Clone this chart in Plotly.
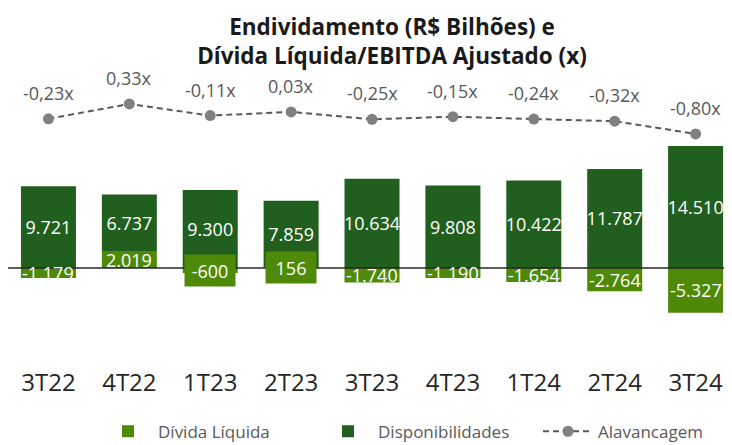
import plotly.graph_objects as go

categories = ['3T22', '4T22', '1T23', '2T23', '3T23', '4T23', '1T24', '2T24', '3T24']
divida_liquida = [-1179, 2019, -600, 156, -1740, -1190, -1654, -2764, -5327]
disponibilidades = [9721, 6737, 9300, 7859, 10634, 9808, 10422, 11787, 14510]
alavancagem = [-0.23, 0.33, -0.11, 0.03, -0.25, -0.15, -0.24, -0.32, -0.80]

LIGHT = '#4E8A08'
DARK = '#215F1E'
FONT = 'Open Sans'


def br(v):
    return f"{v:,}".replace(',', '.')


fig = go.Figure()
fig.add_trace(go.Bar(
    x=categories, y=divida_liquida, name='Dívida Líquida',
    marker=dict(color=LIGHT, line=dict(width=0)), width=0.68,
))
fig.add_trace(go.Bar(
    x=categories, y=disponibilidades, name='Disponibilidades',
    marker=dict(color=DARK, line=dict(width=0)), width=0.68,
    text=[br(v) for v in disponibilidades], textposition='inside', textangle=0,
    insidetextanchor='middle', constraintext='none',
    textfont=dict(color='white', size=18, family=FONT),
))
fig.add_trace(go.Scatter(
    x=categories, y=alavancagem, name='Alavancagem', yaxis='y2',
    mode='lines+markers',
    line=dict(color='#595959', width=2, dash='6px,4px'),
    marker=dict(color='#808080', size=11),
))

annotations = []
for c, v in zip(categories, divida_liquida):
    boxed = abs(v) < 1000
    a = dict(x=c, y=v / 2, xref='x', yref='y', text=br(v), showarrow=False,
             font=dict(color='white', size=18, family=FONT),
             xanchor='center', yanchor='middle')
    if boxed:
        a.update(bgcolor=LIGHT, width=48, height=29)
    annotations.append(a)
for c, v in zip(categories, alavancagem):
    annotations.append(dict(
        x=c, y=v, xref='x', yref='y2', text=f"{v:.2f}".replace('.', ',') + 'x',
        showarrow=False, yshift=26, font=dict(color='#595959', size=18, family=FONT),
        xanchor='center', yanchor='middle'))

W, H = 724, 437
fig.update_layout(
    width=W, height=H,
    margin=dict(l=0, r=0, t=62, b=79, autoexpand=False),
    paper_bgcolor='white', plot_bgcolor='white',
    barmode='relative', bargap=0.32,
    title=dict(text='<b>Endividamento (R$ Bilhões) e<br>Dívida Líquida/EBITDA Ajustado (x)</b>',
               x=384 / W, xanchor='center', xref='container',
               y=1 - 27 / H, yanchor='middle', yref='container',
               font=dict(size=22.5, family=FONT, color='#1a1a1a')),
    xaxis=dict(range=[-0.5, 8.45], showline=False, showgrid=False, ticks='',
               automargin=False,
               tickfont=dict(size=24, family=FONT, color='#262626')),
    yaxis=dict(range=[-11667, 23571], visible=False, showgrid=False, zeroline=False,
               automargin=False),
    yaxis2=dict(range=[-9.558, 1.611], overlaying='y', visible=False,
                showgrid=False, zeroline=False, automargin=False),
    shapes=[dict(type='line', xref='paper', x0=0, x1=1, yref='y', y0=0, y1=0,
                 line=dict(color='#262626', width=1.5), layer='above')],
    annotations=annotations,
    showlegend=True,
    legend=dict(orientation='h', x=90 / W, xanchor='left', y=-0.222, yanchor='middle',
                font=dict(size=17, family=FONT, color='#595959'),
                traceorder='normal', itemwidth=50,
                entrywidth=155, entrywidthmode='pixels'),
    font=dict(family=FONT),
)

fig.write_html('out.html')
